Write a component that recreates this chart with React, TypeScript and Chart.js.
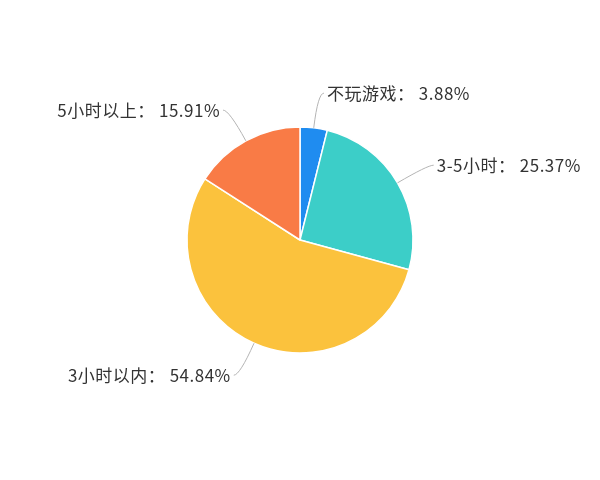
import React, { useRef, useEffect } from "react";
import { Chart, registerables } from "chart.js";

Chart.register(...registerables);

const labels = ["不玩游戏", "3-5小时", "3小时以内", "5小时以上"];
const shares = [3.88, 25.37, 54.84, 15.91];
const colors = ["#1F8CF0", "#3CCEC8", "#FBC23D", "#F97B46"];

// draws the outside labels with smooth leader lines
const outsideLabels = {
    id: "outsideLabels",
    afterDatasetsDraw(chart: any) {
        const ctx = chart.ctx;
        const meta = chart.getDatasetMeta(0);
        ctx.save();
        ctx.font = '17px "Noto Sans CJK SC", "Noto Sans", sans-serif';
        ctx.letterSpacing = "0.5px";
        ctx.textBaseline = "middle";
        meta.data.forEach((arc: any, i: number) => {
            const { x, y, startAngle, endAngle, outerRadius } = arc.getProps(
                ["x", "y", "startAngle", "endAngle", "outerRadius"], true
            );
            const mid = (startAngle + endAngle) / 2;
            const cos = Math.cos(mid);
            const sin = Math.sin(mid);
            const p0x = x + cos * outerRadius;
            const p0y = y + sin * outerRadius;
            const p1x = x + cos * (outerRadius + 35);
            const p1y = y + sin * (outerRadius + 35);
            const right = cos >= 0;
            const p2x = p1x + (right ? 6 : -6);
            const p2y = p1y;

            ctx.strokeStyle = "#b4b4b4";
            ctx.lineWidth = 1;
            ctx.beginPath();
            ctx.moveTo(p0x, p0y);
            ctx.quadraticCurveTo(p1x, p1y, p2x, p2y);
            ctx.stroke();

            ctx.fillStyle = "#333333";
            ctx.textAlign = right ? "left" : "right";
            ctx.fillText(
                labels[i] + "： " + shares[i].toFixed(2) + "%",
                p2x + (right ? 3 : -3),
                p2y
            );
        });
        ctx.restore();
    }
};

const App: React.FC = () => {
    const canvasRef = useRef<HTMLCanvasElement | null>(null);
    const chartRef = useRef<Chart | null>(null);

    useEffect(() => {
        if (!canvasRef.current) return;
        if (chartRef.current) chartRef.current.destroy();

        chartRef.current = new Chart(canvasRef.current, {
            type: "pie",
            data: {
                labels: labels,
                datasets: [{
                    data: shares,
                    backgroundColor: colors,
                    borderColor: "#ffffff",
                    borderWidth: 1.5,
                    radius: 113
                }]
            },
            options: {
                responsive: false,
                animation: false,
                plugins: {
                    legend: { display: false },
                    tooltip: { enabled: false }
                }
            },
            plugins: [outsideLabels]
        });

        return () => {
            if (chartRef.current) {
                chartRef.current.destroy();
                chartRef.current = null;
            }
        };
    }, []);

    return (
        <div style={{ position: "fixed", left: 0, top: 0, width: 600, height: 480, background: "#fff" }}>
            <canvas ref={canvasRef} width={600} height={480}></canvas>
        </div>
    );
};

export default App;
